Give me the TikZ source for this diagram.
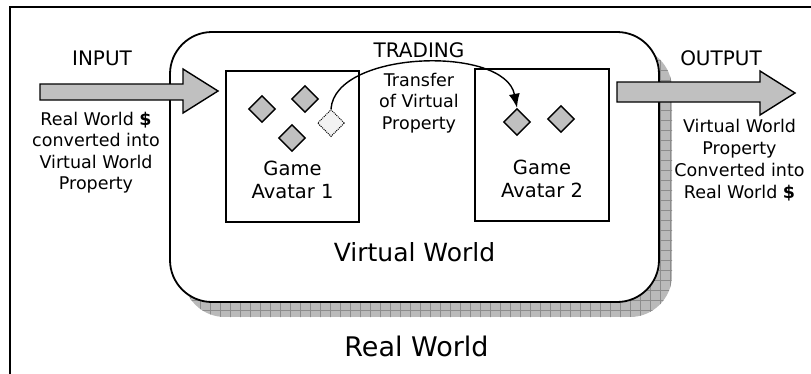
\documentclass[tikz,border=0pt]{standalone}
\usepackage{fontspec}
\setmainfont{DejaVu Sans}
\usetikzlibrary{positioning}
\usetikzlibrary{shapes.geometric}
\usetikzlibrary{arrows.meta}
\definecolor{silver}{HTML}{C0C0C0}
\definecolor{ghost}{HTML}{F2F2F2}
\tikzset{
    world diagram/.style={
            x=1pt,y=-1pt,line width=1.4pt,
            gem/.style={diamond,draw,fill=silver,minimum width=27pt,minimum height=27pt,inner sep=0pt},
            ghostgem/.style={gem,densely dotted,line width=1pt,fill=ghost},
            avatar/.style={draw,minimum width=133pt,minimum height=151pt,inner sep=0pt},
            txt/.style={inner sep=0pt,align=center},
            headtext/.style={txt,font=\fontsize{20}{24}\selectfont},
            notetext/.style={txt,font=\fontsize{17.5}{21.5}\selectfont},
            trade/.style={-{Latex[length=14pt,width=11pt]}},
            bigarrow/.style={draw,fill=silver}
        }
    }
\begin{document}
\begin{tikzpicture}[world diagram]
    \useasboundingbox (0,0) rectangle (811,373);
    \clip (0,0) rectangle (811,373);
    % real world frame
    \draw (10,7) rectangle (820,380);
    % shadow, then the virtual world
    \begin{scope}
        \clip[rounded corners=42pt] (183,47) rectangle (672,317);
        \fill[black!27] (183,47) rectangle (672,317);
        \draw[black!45,line width=0.6pt,step=10pt] (180,40) grid (680,320);
    \end{scope}
    \draw[fill=white,rounded corners=42pt,line width=1.8pt] (170,32) rectangle (659,302);
    \node[avatar] (a1) at (292.5,146.5) {};
    \node[avatar,minimum width=134pt,minimum height=152pt] (a2) at (542,145) {};
    \node[gem] (d1) at (262,109) {};
    \node[gem] (d2) at (305,99) {};
    \node[gem] (d3) at (292,138) {};
    \node[ghostgem] (d4) at (331,123) {};
    \node[gem] (e1) at (517,122) {};
    \node[gem] (e2) at (561,119) {};
    \draw [trade] (d4.north) .. controls (335,50) and (505,45) .. (e1.north);
    % in and out
    \draw [bigarrow] (40,84) -- (183,84) -- (183,69) -- (218,91) -- (183,113) -- (183,100) -- (40,100) -- cycle;
    \draw [bigarrow] (617,82) -- (760,82) -- (760,71) -- (795,93) -- (760,115) -- (760,102) -- (617,102) -- cycle;
    \node[headtext] (in) at (102,58.5) {INPUT};
    \node[notetext] (inl) at (96,152.5) {Real World \textbf{\$}\\converted into\\Virtual World\\Property};
    \node[headtext] (tr) at (419,50.5) {TRADING};
    \node[notetext] (trl) [below=13.5pt of tr] {Transfer\\of Virtual\\Property};
    \node[headtext] (out) at (721,58.5) {OUTPUT};
    \node[notetext,font=\fontsize{17.5}{22}\selectfont] (outl) at (739.5,160) {Virtual World\\Property\\Converted into\\Real World \textbf{\$}};
    \node[txt,font=\fontsize{19.5}{23}\selectfont] (g1) at (292.5,179.5) {Game\\Avatar 1};
    \node[txt,font=\fontsize{19.5}{23}\selectfont] (g2) at (542,178.5) {Game\\Avatar 2};
    \node[txt,font=\fontsize{25}{30}\selectfont] (vw) at (414.5,252.5) {Virtual World};
    \node[txt,font=\fontsize{27}{32}\selectfont] (rw) at (416.5,346) {Real World};
\end{tikzpicture}
\end{document}
